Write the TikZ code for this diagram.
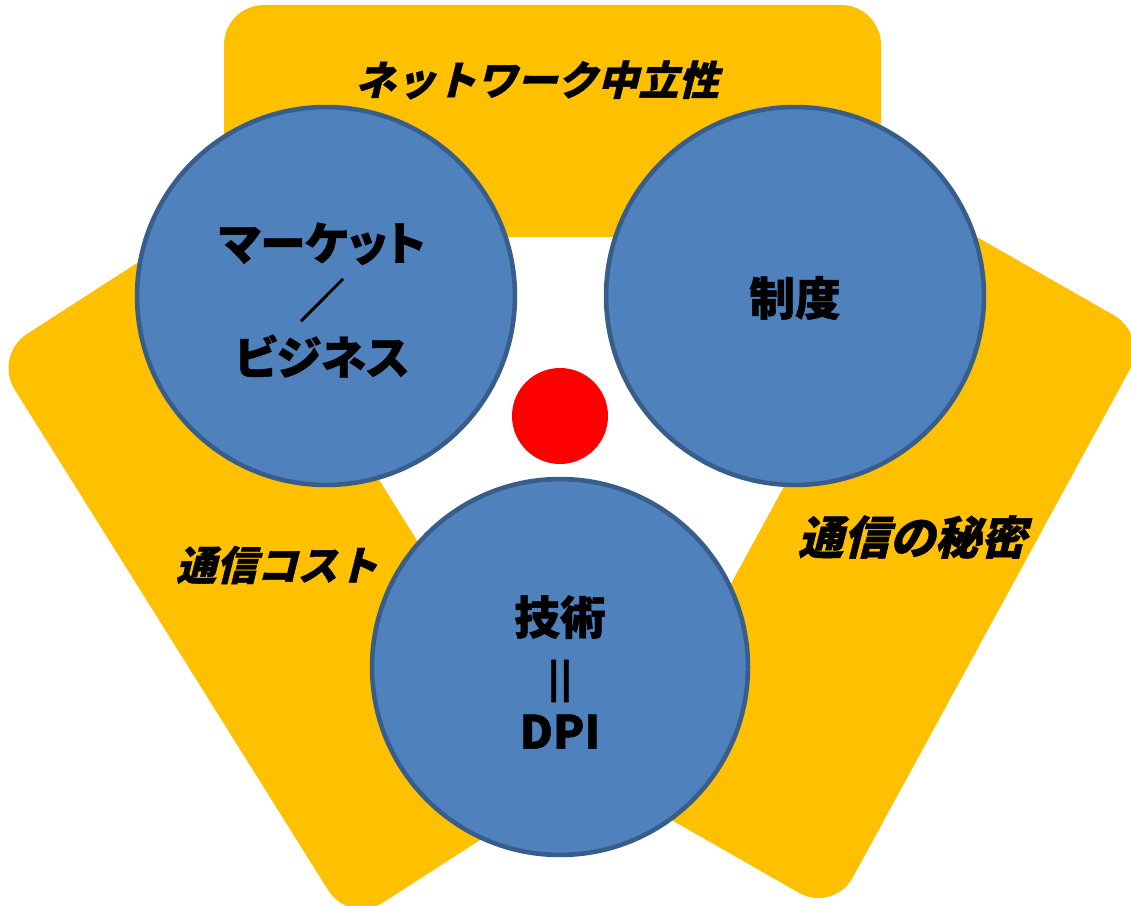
\documentclass[tikz,border=0pt]{standalone}
\usepackage{fontspec}
\newfontfamily\jp{Noto Sans CJK JP}[RawFeature=+palt, FakeBold=1]
\newfontfamily\jpsl{Noto Sans CJK JP}[FakeSlant=0.25, FakeBold=1]
\definecolor{ygold}{HTML}{FFC000}
\definecolor{cblue}{HTML}{4F81BD}
\definecolor{cedge}{HTML}{385D8A}
\definecolor{cred}{HTML}{FF0000}
\begin{document}
\begin{tikzpicture}[x=0.02cm,y=-0.02cm,
  panel/.style={fill=ygold, rounded corners=0.8cm},
  ball/.style={circle, fill=cblue, draw=cedge, line width=2.6pt, minimum size=7.56cm, inner sep=0pt},
  ctext/.style={align=center, inner sep=0pt, font=\jp\bfseries\fontsize{26}{32.5}\selectfont},
  lab/.style={font=\jpsl\bfseries\fontsize{23}{28}\selectfont, inner sep=0pt},
  dot/.style={circle, fill=cred, minimum size=1.92cm, inner sep=0pt}]
\clip (0,0) rectangle (1131,905);
% yellow panels
\fill[panel] (224,5) -- (881,5) -- (881,237) -- (224,237) -- cycle;
\fill[panel] (-6.6,355.6) -- (212.7,214.3) -- (568.7,782.8) -- (349.5,924.2) -- cycle;
\fill[panel] (1148.6,335.1) -- (833.6,912.6) -- (618.6,789.8) -- (933.6,212.3) -- cycle;
% labels on panels
\node[lab] (net) at (537,80) {ネットワーク中立性};
\node[lab] (cost) at (277,565) {通信コスト};
\node[lab, font=\jpsl\bfseries\fontsize{26}{30}\selectfont] (secret) at (912,537) {通信の秘密};
% circles
\node[ball] (market) at (326,296) {};
\node[ball] (rule) at (795,296) {};
\node[ball, minimum size=7.52cm] (tech) at (560,667) {};
% circle texts
\node[ctext] (markettext) at (322,300) {マーケット\\／\\ビジネス};
\node[ctext] (ruletext) at (795,298) {制度};
\node[ctext] (techtext) at (560,672) {技術\\{\fontsize{21}{21}\selectfont|\kern0.03em|}\\DPI};
% center dot
\node[dot] (center) at (560,416) {};
\end{tikzpicture}
\end{document}
